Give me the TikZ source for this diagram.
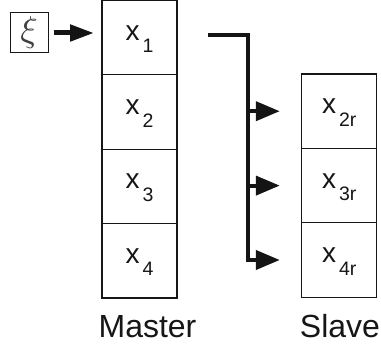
\documentclass[tikz,border=0pt]{standalone}
\usepackage{graphicx}
\usepackage{fontspec}
\setmainfont{Liberation Sans}
\usetikzlibrary{arrows.meta,calc}

\definecolor{ink}{HTML}{161616}

% variable with a lowered subscript, Arial-like proportions
\newcommand{\cellvar}[1]{{\fontsize{28}{33}\selectfont x\hspace{3pt}\raisebox{-12.5pt}{\fontsize{19.5}{23}\selectfont #1}}}

\begin{document}
\begin{tikzpicture}[x=1pt,y=-1pt,
  cell/.style={draw=ink,line width=1.3pt,minimum width=75pt,minimum height=74.4pt,
               inner sep=0pt,outer sep=0pt,text=ink},
  celltext/.style={yshift=-1.5pt},
  bus/.style={draw=black!92,line width=4pt,line join=miter},
  bushead/.style={-{Triangle[length=24pt,width=19pt]}},
  caption/.style={anchor=base,text=ink,inner sep=0pt,font=\fontsize{32}{38}\selectfont}]

  \useasboundingbox (0,0) rectangle (381,350);

  % Master column
  \node[cell] (m1) at (139.5,37.6)  {};
  \node[cell] (m2) at (139.5,112.0) {};
  \node[cell] (m3) at (139.5,186.4) {};
  \node[cell] (m4) at (139.5,260.8) {};
  \node[celltext,text=ink] (t1) at (m1) {\cellvar{1}};
  \node[celltext,text=ink] (t2) at (m2) {\cellvar{2}};
  \node[celltext,text=ink] (t3) at (m3) {\cellvar{3}};
  \node[celltext,text=ink] (t4) at (m4) {\cellvar{4}};

  % Slave column
  \node[cell] (s2) at (339.3,111.2) {};
  \node[cell] (s3) at (339.3,185.6) {};
  \node[cell] (s4) at (339.3,260.0) {};
  \node[celltext,text=ink] (t2r) at (s2) {\cellvar{2r}};
  \node[celltext,text=ink] (t3r) at (s3) {\cellvar{3r}};
  \node[celltext,text=ink] (t4r) at (s4) {\cellvar{4r}};

  % input symbol (math xi, scaled up)
  \node[draw=ink,line width=1pt,minimum width=38pt,minimum height=40pt,inner sep=0pt,
        text=black!75] (xi) at (29,33) {\scalebox{3.6}{$\xi$}};

  % input arrow
  \draw[black!92,line width=5pt,-{Triangle[length=24pt,width=16pt]},
        shorten <=5pt,shorten >=8pt] (xi.east) -- (xi.east -| m1.west);

  % distribution bus from x1 to the slave cells
  \coordinate (busstart) at (208,35);
  \coordinate (busx) at (248,35);
  \draw[bus,bushead,shorten >=22pt] (busstart) -- (busx) -- (busx |- s4.west) -- (s4.west);
  \draw[bus,bushead,shorten >=22pt] (busx |- s2.west) -- (s2.west);
  \draw[bus,bushead,shorten >=22pt] (busx |- s3.west) -- (s3.west);

  % captions
  \node[caption] (master) at (147.5,338) {Master};
  \node[caption] (slave) at (340,338) {Slave};
\end{tikzpicture}
\end{document}
